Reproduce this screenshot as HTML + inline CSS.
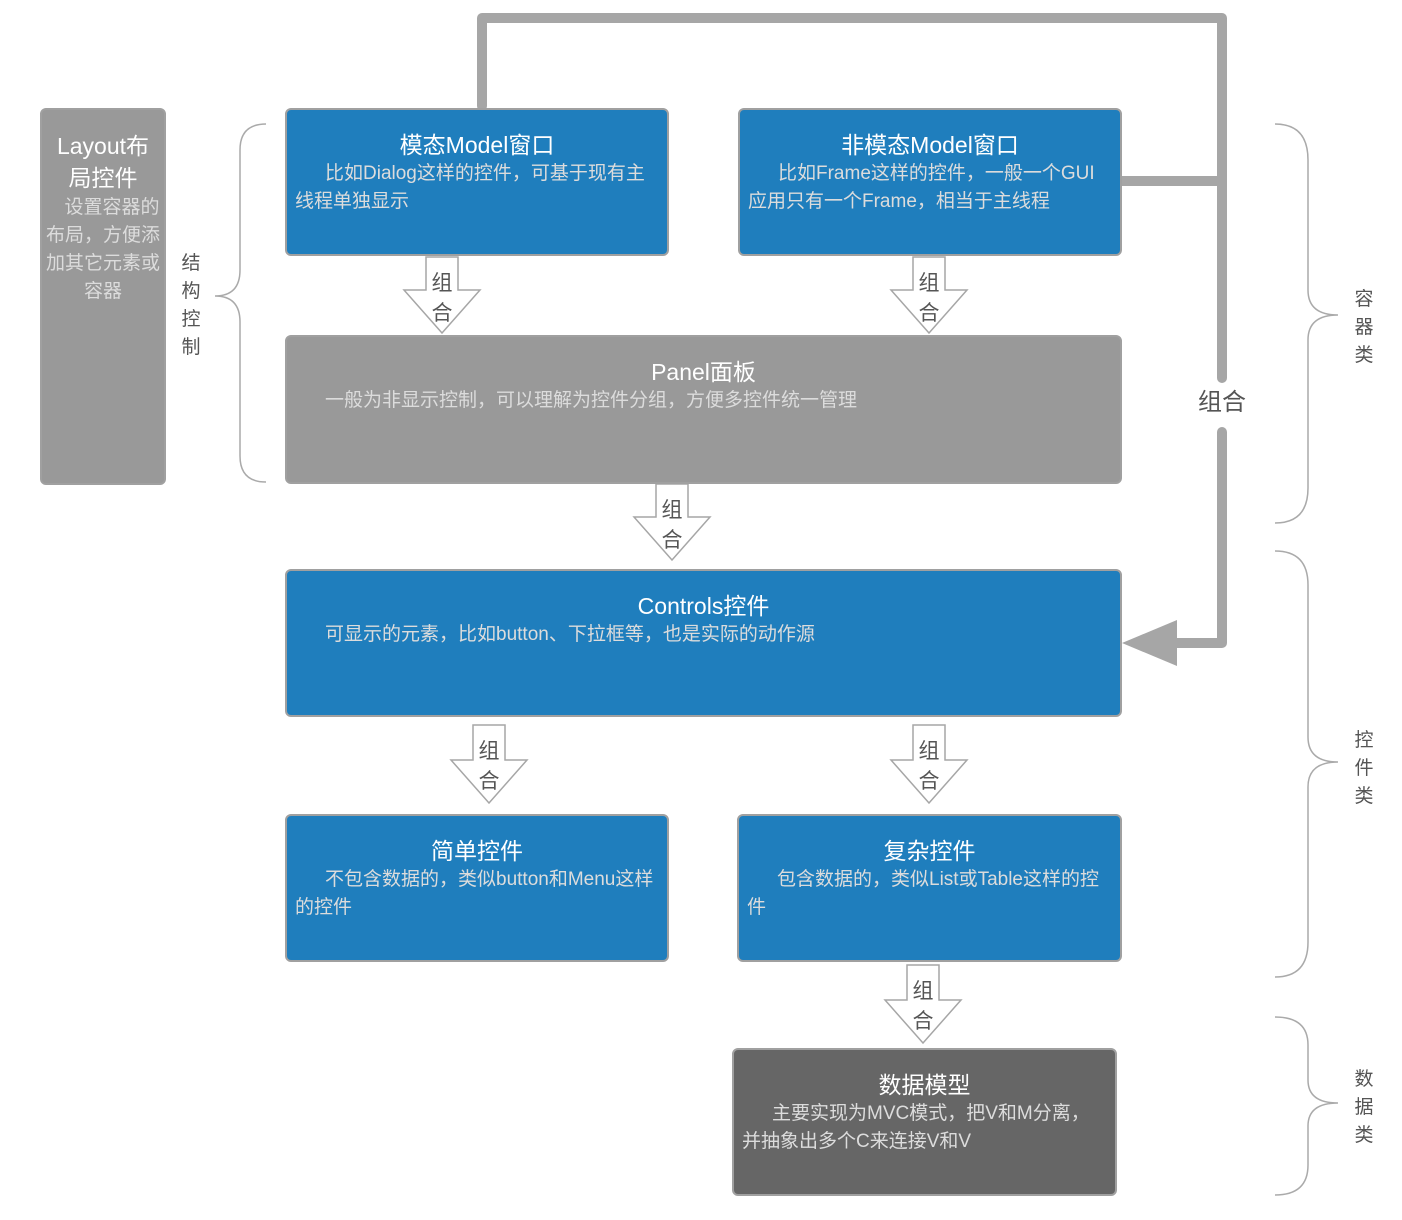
<!DOCTYPE html>
<html><head><meta charset="utf-8"><style>
body{margin:0;width:1402px;height:1220px;background:#fff;position:relative;overflow:hidden;font-family:"Liberation Sans","Noto Sans CJK SC",sans-serif}
.b{position:absolute;box-sizing:border-box;border:2px solid #a0a0a0;border-radius:6px;background:#1f7ebd;color:#fff;padding:0 8px}
.t{font-size:23px;text-align:center;margin-top:20px;line-height:30px}
.d{font-size:19px;color:#dcdcdc;line-height:28px;text-indent:30px}
.v{position:absolute;font-size:19px;color:#555;width:22px;line-height:28px;text-align:center}
</style></head><body>
<svg width="1402" height="1220" style="position:absolute;left:0;top:0">
<g fill="none" stroke="#a6a6a6" stroke-width="10" stroke-linejoin="round" stroke-linecap="round">
<polyline points="482,106 482,18 1222,18 1222,378"/>
<polyline points="1222,432 1222,643 1172,643"/>
<line x1="1118" y1="181" x2="1222" y2="181"/>
</g>
<polygon points="1122,643 1177,620 1177,666" fill="#a6a6a6"/>
<g fill="#fff" stroke="#a6a6a6" stroke-width="1.5">
<polygon points="426,257 458,257 458,290 480,290 442,333 404,290 426,290"/>
<polygon points="913,257 945,257 945,290 967,290 929,333 891,290 913,290"/>
<polygon points="656,484 688,484 688,517 710,517 672,560 634,517 656,517"/>
<polygon points="473,725 505,725 505,760 527,760 489,803 451,760 473,760"/>
<polygon points="913,725 945,725 945,760 967,760 929,803 891,760 913,760"/>
<polygon points="907,965 939,965 939,1000 961,1000 923,1043 885,1000 907,1000"/>
</g>
<g fill="#555" font-size="21" text-anchor="middle" font-family="Liberation Sans,Noto Sans CJK SC,sans-serif">
<text x="442" y="290">组</text><text x="442" y="320">合</text>
<text x="929" y="290">组</text><text x="929" y="320">合</text>
<text x="672" y="517">组</text><text x="672" y="547">合</text>
<text x="489" y="758">组</text><text x="489" y="788">合</text>
<text x="929" y="758">组</text><text x="929" y="788">合</text>
<text x="923" y="998">组</text><text x="923" y="1028">合</text>
<text x="1222" y="410" font-size="24">组合</text>
</g>
<g fill="none" stroke="#aaa" stroke-width="1.5">
<path d="M266,124 Q240,124 240,150 L240,270 Q240,296 215,296 Q240,296 240,322 L240,456 Q240,482 266,482"/>
<path d="M1275,124 Q1308,124 1308,160 L1308,290 Q1308,315 1338,315 Q1308,315 1308,340 L1308,488 Q1308,523 1275,523"/>
<path d="M1275,551 Q1308,551 1308,585 L1308,737 Q1308,762 1338,762 Q1308,762 1308,787 L1308,942 Q1308,977 1275,977"/>
<path d="M1275,1017 Q1308,1017 1308,1045 L1308,1080 Q1308,1103 1338,1103 Q1308,1103 1308,1126 L1308,1165 Q1308,1195 1275,1195"/>
</g>
</svg>
<div class="b" style="left:40px;top:108px;width:126px;height:377px;background:#999;padding:0 4px">
<div class="t" style="font-size:23px;margin-top:20px;line-height:32px">Layout布局控件</div>
<div class="d" style="text-align:center;text-indent:18px;line-height:28px">设置容器的布局，方便添加其它元素或容器</div></div>
<div class="v" style="left:180px;top:250px">结构控制</div>
<div class="v" style="left:1353px;top:286px">容器类</div>
<div class="v" style="left:1353px;top:727px">控件类</div>
<div class="v" style="left:1353px;top:1066px">数据类</div>
<div class="b" style="left:285px;top:108px;width:384px;height:148px"><div class="t">模态Model窗口</div><div class="d">比如Dialog这样的控件，可基于现有主线程单独显示</div></div>
<div class="b" style="left:738px;top:108px;width:384px;height:148px"><div class="t">非模态Model窗口</div><div class="d">比如Frame这样的控件，一般一个GUI应用只有一个Frame，相当于主线程</div></div>
<div class="b" style="left:285px;top:335px;width:837px;height:149px;background:#999;padding:0 38px"><div class="t">Panel面板</div><div class="d" style="text-indent:0">一般为非显示控制，可以理解为控件分组，方便多控件统一管理</div></div>
<div class="b" style="left:285px;top:569px;width:837px;height:148px;padding:0 38px"><div class="t">Controls控件</div><div class="d" style="text-indent:0">可显示的元素，比如button、下拉框等，也是实际的动作源</div></div>
<div class="b" style="left:285px;top:814px;width:384px;height:148px"><div class="t">简单控件</div><div class="d">不包含数据的，类似button和Menu这样的控件</div></div>
<div class="b" style="left:737px;top:814px;width:385px;height:148px"><div class="t">复杂控件</div><div class="d">包含数据的，类似List或Table这样的控件</div></div>
<div class="b" style="left:732px;top:1048px;width:385px;height:148px;background:#666"><div class="t">数据模型</div><div class="d">主要实现为MVC模式，把V和M分离，并抽象出多个C来连接V和V</div></div>
</body></html>
